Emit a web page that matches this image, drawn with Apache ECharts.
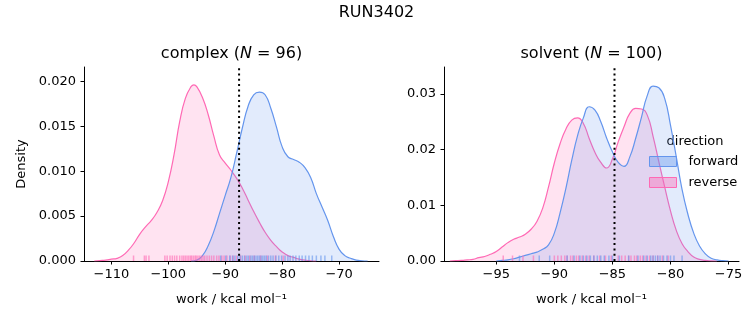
<!DOCTYPE html>
<html>
<head>
<meta charset="utf-8">
<script src="https://cdn.jsdelivr.net/npm/echarts@6/dist/echarts.min.js"></script>
<style>
html,body{margin:0;padding:0;background:#fff;}
#c{width:753px;height:325px;}
</style>
</head>
<body>
<div id="c"></div>
<script>
// ---- data ----
const complexRevX = [-113,-112,-111,-110,-109,-108,-107,-106,-105,-104,-103,-102,-101,-100,-99,-98,-97,-96,-95.5,-95,-94,-93,-92,-91,-90,-89,-88,-87,-86,-85,-84,-83,-82,-81,-80,-79,-78,-77,-76,-75,-74];
const complexRevY = [0,0.00005,0.0001,0.0002,0.0003,0.0006,0.0012,0.0020,0.0030,0.0038,0.0045,0.0054,0.0067,0.0088,0.0118,0.0155,0.0181,0.0194,0.0196,0.0194,0.0182,0.0163,0.0139,0.0118,0.0109,0.0101,0.0092,0.0081,0.0068,0.0055,0.0043,0.0032,0.0023,0.0016,0.0010,0.0006,0.0004,0.0002,0.0001,0.00003,0];
const complexFwdX = [-96,-95,-94,-93,-92,-91,-90,-89,-88,-87,-86,-85,-84,-83,-82,-81,-80,-79,-78,-77,-76,-75,-74,-73,-72,-71,-70,-69,-68,-67,-66,-65];
const complexFwdY = [0,0.0001,0.0006,0.0017,0.0033,0.0053,0.0073,0.0093,0.0120,0.0148,0.0172,0.0185,0.0188,0.0185,0.0170,0.0149,0.0127,0.0116,0.0113,0.0110,0.0104,0.0093,0.0075,0.0060,0.0045,0.0027,0.0013,0.0006,0.0003,0.0001,0.00003,0];

const solventRevX = [-99,-98.5,-98,-97.5,-97,-96.5,-96,-95.5,-95,-94.5,-94,-93.5,-93,-92.5,-92,-91.5,-91,-90.5,-90,-89.5,-89,-88.5,-88,-87.5,-87,-86.5,-86,-85.5,-85,-84.5,-84,-83.5,-83,-82.5,-82,-81.5,-81,-80.5,-80,-79.5,-79,-78.5,-78,-77.5,-77,-76.5,-76];
const solventRevY = [0,0.00005,0.0001,0.0002,0.0003,0.0006,0.0008,0.0012,0.0017,0.0025,0.0033,0.0039,0.0043,0.0048,0.0057,0.0071,0.0095,0.0133,0.0176,0.0211,0.0237,0.0253,0.0257,0.0247,0.0220,0.0195,0.0177,0.0167,0.0183,0.0214,0.0241,0.0265,0.0274,0.0273,0.0262,0.0224,0.0178,0.0133,0.0090,0.0055,0.0031,0.0017,0.0007,0.0003,0.0001,0.00003,0];
const solventFwdX = [-95,-94.5,-94,-93.5,-93,-92.5,-92,-91.5,-91,-90.5,-90,-89.5,-89,-88.5,-88,-87.5,-87,-86.5,-86,-85.5,-85,-84.5,-84,-83.5,-83,-82.5,-82,-81.5,-81,-80.5,-80,-79.5,-79,-78.5,-78,-77.5,-77,-76.5,-76,-75.5,-75];
const solventFwdY = [0,0.0001,0.0002,0.0004,0.0007,0.0010,0.0013,0.0016,0.0021,0.0029,0.0050,0.0087,0.0131,0.0181,0.0225,0.0257,0.0277,0.0271,0.0250,0.0221,0.0196,0.0177,0.0170,0.0187,0.0220,0.0258,0.0297,0.0314,0.0311,0.0292,0.0244,0.0187,0.0128,0.0084,0.0050,0.0027,0.0013,0.0005,0.0002,0.00005,0];

const complexRevRug = [-106.1,-104.2,-103.9,-103.4,-100.6,-100.2,-99.7,-99.3,-98.9,-98.5,-98.0,-97.6,-97.3,-97.0,-96.7,-96.4,-96.1,-95.9,-95.6,-95.3,-95.1,-94.8,-94.5,-94.2,-93.9,-93.6,-93.2,-92.8,-92.4,-92.0,-91.5,-91.1,-90.6,-90.2,-89.7,-89.1,-88.6,-88.0,-87.3,-86.5,-85.7,-84.9,-83.8,-82.6,-81.2,-79.8];
const complexFwdRug = [-90.8,-89.9,-89.2,-88.7,-88.3,-87.8,-87.4,-87.0,-86.6,-86.2,-85.9,-85.5,-85.2,-84.9,-84.6,-84.3,-84.0,-83.7,-83.4,-83.1,-82.8,-82.4,-82.0,-81.6,-81.1,-80.6,-80.1,-79.5,-79.0,-78.6,-78.1,-77.6,-77.0,-76.5,-75.9,-75.3,-74.7,-74.0,-73.2,-72.5,-71.3];
const solventRevRug = [-94.4,-93.6,-92.7,-91.8,-90.0,-89.7,-89.4,-89.1,-88.9,-88.6,-88.4,-88.1,-87.9,-87.6,-87.3,-87.0,-86.6,-86.1,-85.6,-85.1,-84.5,-84.2,-83.9,-83.6,-83.4,-83.1,-82.9,-82.6,-82.4,-82.1,-81.8,-81.5,-81.1,-80.7,-80.2];
const solventFwdRug = [-93.0,-91.3,-90.4,-88.9,-88.3,-87.8,-87.5,-87.2,-86.9,-86.6,-86.3,-86.0,-85.7,-85.3,-85.0,-84.4,-83.6,-82.8,-82.3,-82.0,-81.7,-81.5,-81.3,-81.1,-80.9,-80.6,-80.3,-80.0,-79.7,-79.0];

const complexRef = -87.57;
const solventRef = -84.82;

const complexXTicks = [-110,-100,-90,-80,-70];
const complexYTicks = [0,0.005,0.010,0.015,0.020];
const solventXTicks = [-95,-90,-85,-80,-75];
const solventYTicks = [0,0.01,0.02,0.03];

const mainTitle = 'RUN3402';
const panelNames = ['complex','solvent'];
const panelN = [96,100];
const hueNames = ['forward','reverse'];
const xLabel = 'work / kcal mol\u207B\u00B9';
const yLabel = 'Density';

// ---- styling ----
const BLUE = '#6495ED', PINK = '#FF69B4';
const BLUE_FILL = 'rgba(100,149,237,0.27)', PINK_FILL = 'rgba(255,105,180,0.27)';
const FONT = 'DejaVu Sans';
const FS = 13;
const zip = (xs, ys) => xs.map((x, i) => [x, ys[i]]);

function xAxisCfg(idx, min, max, ticks) {
  return {
    type: 'value', gridIndex: idx, min: min, max: max,
    splitLine: {show: false},
    axisLine: {lineStyle: {color: '#000', width: 1}},
    axisTick: {show: true, length: 3.5, lineStyle: {color: '#000', width: 1}, customValues: ticks},
    axisLabel: {customValues: ticks, color: '#000', fontFamily: FONT, fontSize: FS, margin: 7,
      formatter: v => (v < 0 ? '\u2212' + Math.abs(v) : String(v))},
    name: xLabel, nameLocation: 'middle', nameGap: 32,
    nameTextStyle: {color: '#000', fontFamily: FONT, fontSize: FS}
  };
}
function yAxisCfg(idx, max, ticks, dec, withName) {
  const a = {
    type: 'value', gridIndex: idx, min: 0, max: max,
    splitLine: {show: false},
    axisLine: {show: true, lineStyle: {color: '#000', width: 1}},
    axisTick: {show: true, length: 3.5, lineStyle: {color: '#000', width: 1}, customValues: ticks},
    axisLabel: {customValues: ticks, color: '#000', fontFamily: FONT, fontSize: FS, margin: 8,
      formatter: v => v.toFixed(dec)}
  };
  if (withName) {
    a.name = yLabel; a.nameLocation = 'middle'; a.nameGap = 56; a.nameRotate = 90;
    a.nameTextStyle = {color: '#000', fontFamily: FONT, fontSize: FS};
  }
  return a;
}
function kde(name, idx, xs, ys, line, fill, z) {
  return {
    type: 'line', name: name, xAxisIndex: idx, yAxisIndex: idx, data: zip(xs, ys),
    showSymbol: false, symbol: 'none', smooth: 0.5, z: z,
    lineStyle: {color: line, width: 1.2}, itemStyle: {color: line},
    areaStyle: {color: fill, origin: 'start'}, silent: true
  };
}
function rug(idx, xs, color) {
  return {
    type: 'scatter', xAxisIndex: idx, yAxisIndex: idx, data: xs.map(x => [x, 0]),
    symbol: 'rect', symbolSize: [1.5, 5.5], symbolOffset: [0, -2.75],
    itemStyle: {color: color, opacity: 0.6}, silent: true, z: 4
  };
}
function refLine(idx, x, ymax) {
  return {
    type: 'line', xAxisIndex: idx, yAxisIndex: idx, data: [[x, 0], [x, ymax]],
    showSymbol: false, symbol: 'none', z: 6, silent: true,
    lineStyle: {color: '#000', width: 2, type: [2, 3.3]}
  };
}

const cYmax = 0.02159, sYmax = 0.03484;
const chart = echarts.init(document.getElementById('c'), null, {renderer: 'canvas'});
chart.setOption({
  animation: false,
  backgroundColor: '#fff',
  grid: [
    {left: 84, top: 67, width: 295, height: 194},
    {left: 444, top: 67, width: 295, height: 194}
  ],
  xAxis: [xAxisCfg(0, -114.8, -63.0, complexXTicks), xAxisCfg(1, -99.5, -74.1, solventXTicks)],
  yAxis: [yAxisCfg(0, cYmax, complexYTicks, 3, true), yAxisCfg(1, sYmax, solventYTicks, 2, false)],
  legend: {
    orient: 'vertical', left: 649, top: 155, padding: 0, itemWidth: 27, itemHeight: 10, itemGap: 8,
    icon: 'rect', selectedMode: false,
    textStyle: {color: '#000', fontFamily: FONT, fontSize: FS, padding: [0, 0, 0, 7]},
    data: [
      {name: hueNames[0], itemStyle: {color: 'rgba(100,149,237,0.4)', borderColor: BLUE, borderWidth: 1}},
      {name: hueNames[1], itemStyle: {color: 'rgba(255,105,180,0.4)', borderColor: PINK, borderWidth: 1}}
    ]
  },
  graphic: [
    {type: 'text', left: 'center', top: 5, style: {text: mainTitle, fill: '#000', font: '16px "DejaVu Sans"'}},
    {type: 'text', x: 231.5, y: 54, style: {
      text: panelNames[0] + ' ({i|N} = ' + panelN[0] + ')', fill: '#000', align: 'center', verticalAlign: 'middle',
      font: '16px "DejaVu Sans"', rich: {i: {fontStyle: 'italic', fontFamily: FONT, fontSize: 16, fill: '#000'}}}},
    {type: 'text', x: 591.5, y: 54, style: {
      text: panelNames[1] + ' ({i|N} = ' + panelN[1] + ')', fill: '#000', align: 'center', verticalAlign: 'middle',
      font: '16px "DejaVu Sans"', rich: {i: {fontStyle: 'italic', fontFamily: FONT, fontSize: 16, fill: '#000'}}}},
    {type: 'text', x: 695, y: 142, style: {text: 'direction', fill: '#000', align: 'center', verticalAlign: 'middle',
      font: '13px "DejaVu Sans"'}}
  ],
  series: [
    kde(hueNames[0], 0, complexFwdX, complexFwdY, BLUE, BLUE_FILL, 3),
    kde(hueNames[1], 0, complexRevX, complexRevY, PINK, PINK_FILL, 2),
    kde(hueNames[0], 1, solventFwdX, solventFwdY, BLUE, BLUE_FILL, 3),
    kde(hueNames[1], 1, solventRevX, solventRevY, PINK, PINK_FILL, 2),
    rug(0, complexRevRug, PINK), rug(0, complexFwdRug, BLUE),
    rug(1, solventRevRug, PINK), rug(1, solventFwdRug, BLUE),
    refLine(0, complexRef, cYmax), refLine(1, solventRef, sYmax)
  ]
});
</script>
</body>
</html>
